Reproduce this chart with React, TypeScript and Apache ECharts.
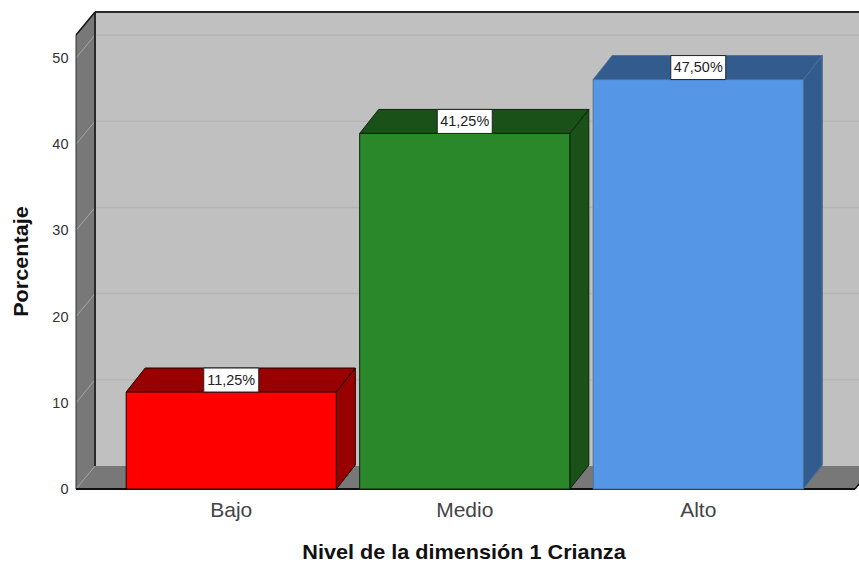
import React, { useEffect, useRef } from "react";
import * as echarts from "echarts";

const categories = ["Bajo", "Medio", "Alto"];
const percentages = [11.25, 41.25, 47.5];
const pointLabels = ["11,25%", "41,25%", "47,50%"];
const frontColors = ["#ff0000", "#2a872a", "#5596e6"];
const sideColors = ["#990000", "#1a5118", "#335c8e"];
const edgeColors = ["#1a0000", "#0c240c", "#4d7199"];
const yTicks = [0, 10, 20, 30, 40, 50];
const yMax = 52.67;
const xTitle = "Nivel de la dimensión 1 Crianza";
const yTitle = "Porcentaje";

const FRONT_LEFT = 76;
const FRONT_RIGHT = 855;
const DX = 19;
const DY = 23;
const BAR_DY = 24;
const STRETCH = 1.11;

function poly(points: number[][], fill: string, stroke?: string, lineWidth = 1) {
  return {
    type: "polygon",
    shape: { points },
    style: { fill, stroke: stroke ?? "none", lineWidth },
  };
}
function seg(x1: number, y1: number, x2: number, y2: number, stroke: string, lineWidth = 1) {
  return { type: "line", shape: { x1, y1, x2, y2 }, style: { stroke, lineWidth } };
}

function renderWalls(_p: any, api: any) {
  const yBase = api.coord([0, 0])[1];
  const yTop = api.coord([0, yMax])[1];
  const L = FRONT_LEFT;
  const R = FRONT_RIGHT;
  const children: any[] = [
    poly([[L + DX, yTop - DY], [R + DX, yTop - DY], [R + DX, yBase - DY], [L + DX, yBase - DY]], "#c0c0c0"),
    poly([[L, yTop], [L + DX, yTop - DY], [L + DX, yBase - DY], [L, yBase]], "#787878"),
    poly([[L, yBase], [L + DX, yBase - DY], [R + DX, yBase - DY], [R, yBase]], "#787878"),
  ];
  yTicks.slice(1).forEach((t) => {
    const y = api.coord([0, t])[1];
    children.push(seg(L, y, L + DX, y - DY, "#a6a6a6"));
    children.push(seg(L + DX, y - DY, R + DX, y - DY, "#b5b5b5", 1.5));
  });
  children.push(seg(L, yBase, L + DX, yBase - DY, "#a0a0a0"));
  children.push(seg(L + DX, yTop - DY, L + DX, yBase - DY, "#2a2a2a", 2));
  children.push(seg(L + DX, yTop - DY, R + DX, yTop - DY, "#2a2a2a", 2));
  children.push(seg(L, yTop, L + DX, yTop - DY, "#111111", 1.5));
  children.push(seg(L, yTop, L, yBase, "#333333", 1));
  children.push(seg(L, yBase, R, yBase, "#111111", 2));
  children.push(seg(R, yBase, R + DX, yBase - DY, "#111111", 1.5));
  return { type: "group", children };
}

function renderBar(p: any, api: any) {
  const i = api.value(0);
  const v = api.value(1);
  const [cx, top] = api.coord([i, v]);
  const base = api.coord([i, 0])[1];
  const w = api.size([1, 0])[0] * 0.9;
  const l = cx - w / 2;
  const r = cx + w / 2;
  const fill = frontColors[p.dataIndex];
  const side = sideColors[p.dataIndex];
  const edge = edgeColors[p.dataIndex];
  return {
    type: "group",
    children: [
      poly([[r, top], [r + DX, top - BAR_DY], [r + DX, base - BAR_DY], [r, base]], side, edge),
      poly([[l, top], [l + DX, top - BAR_DY], [r + DX, top - BAR_DY], [r, top]], side, edge),
      poly([[l, top], [r, top], [r, base], [l, base]], fill, edge),
      {
        type: "rect",
        shape: { x: cx - 27.5, y: top - 24, width: 55, height: 24 },
        style: { fill: "#ffffff", stroke: "#222222", lineWidth: 1 },
      },
      {
        type: "text",
        x: cx,
        y: top - 12,
        scaleX: 1.03,
        style: {
          text: pointLabels[p.dataIndex],
          fill: "#222222",
          font: '14px "Liberation Sans"',
          align: "center",
          verticalAlign: "middle",
        },
      },
    ],
  };
}

export default function App() {
  const ref = useRef<HTMLDivElement>(null);
  useEffect(() => {
    document.body.style.margin = "0";
    const chart = echarts.init(ref.current!, undefined, { renderer: "svg" });
    chart.setOption({
      animation: false,
      backgroundColor: "#ffffff",
      grid: { left: 114.5, right: 44, top: 35, bottom: 73, outerBoundsMode: "none" },
      xAxis: {
        type: "category",
        data: categories,
        axisLine: { show: false },
        axisTick: { show: false },
        axisLabel: { color: "#444444", fontFamily: "Liberation Sans", fontSize: 21, margin: 10 },
      },
      yAxis: {
        type: "value",
        min: 0,
        max: yMax,
        interval: 10,
        offset: 38,
        splitLine: { show: false },
        axisLine: { show: false },
        axisTick: { show: false },
        axisLabel: {
          color: "#333333",
          fontFamily: "Liberation Sans",
          fontSize: 14.5,
          margin: 8,
          padding: [3, 0, 0, 0],
          showMaxLabel: false,
        },
      },
      graphic: [
        {
          type: "text",
          x: 464,
          y: 552,
          scaleX: STRETCH,
          style: {
            text: xTitle,
            fill: "#111111",
            font: 'bold 19.5px "Liberation Sans"',
            align: "center",
            verticalAlign: "middle",
          },
        },
        {
          type: "text",
          x: 21,
          y: 261.5,
          rotation: Math.PI / 2,
          scaleX: STRETCH,
          style: {
            text: yTitle,
            fill: "#111111",
            font: 'bold 19.5px "Liberation Sans"',
            align: "center",
            verticalAlign: "middle",
          },
        },
      ],
      series: [
        { type: "custom", clip: false, z: 1, renderItem: renderWalls, data: [[0, 0]], encode: { x: 0, y: 1 }, silent: true },
        {
          type: "custom",
          clip: false,
          z: 2,
          renderItem: renderBar,
          data: percentages.map((v, i) => [i, v]),
          encode: { x: 0, y: 1 },
        },
      ],
    });
    return () => chart.dispose();
  }, []);
  return <div ref={ref} style={{ width: 859, height: 562 }} />;
}
